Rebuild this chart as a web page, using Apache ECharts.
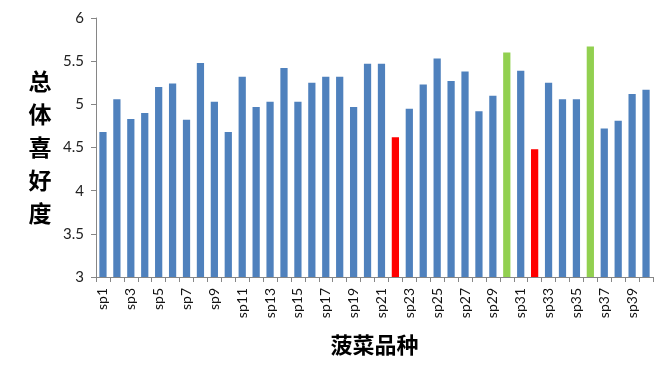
<!DOCTYPE html>
<html>
<head>
<meta charset="utf-8">
<script src="https://cdn.jsdelivr.net/npm/echarts@6/dist/echarts.min.js"></script>
<style>
html,body{margin:0;padding:0;background:#fff;}
#chart{width:672px;height:380px;}
</style>
</head>
<body>
<div id="chart"></div>
<script>
var categories = ['sp1','sp2','sp3','sp4','sp5','sp6','sp7','sp8','sp9','sp10',
  'sp11','sp12','sp13','sp14','sp15','sp16','sp17','sp18','sp19','sp20',
  'sp21','sp22','sp23','sp24','sp25','sp26','sp27','sp28','sp29','sp30',
  'sp31','sp32','sp33','sp34','sp35','sp36','sp37','sp38','sp39','sp40'];
var preference = [4.68,5.06,4.83,4.90,5.20,5.24,4.82,5.48,5.03,4.68,
  5.32,4.97,5.03,5.42,5.03,5.25,5.32,5.32,4.97,5.47,
  5.47,4.62,4.95,5.23,5.53,5.27,5.38,4.92,5.10,5.60,
  5.39,4.48,5.25,5.06,5.06,5.67,4.72,4.81,5.12,5.17];
var lowVarieties = ['sp22','sp32'];
var highVarieties = ['sp30','sp36'];
var yTicks = [3, 3.5, 4, 4.5, 5, 5.5, 6];

var chart = echarts.init(document.getElementById('chart'), null, {renderer:'canvas'});
var axisColor = '#868686';
chart.setOption({
  animation: false,
  grid: {left: 96, right: 19, top: 18, bottom: 103, containLabel: false},
  xAxis: {
    type: 'category',
    data: categories,
    name: '菠菜品种',
    nameLocation: 'middle',
    nameGap: 57,
    nameTextStyle: {fontFamily: 'Noto Sans CJK SC', fontSize: 22, color: '#000', fontWeight: 'bold'},
    axisLine: {lineStyle: {color: axisColor, width: 1}},
    axisTick: {show: true, length: 5, alignWithLabel: false, interval: 0, lineStyle: {color: axisColor}},
    axisLabel: {rotate: 90, interval: 1, margin: 11, fontSize: 14, color: '#111', fontFamily: 'Lato'}
  },
  yAxis: {
    type: 'value',
    min: yTicks[0],
    max: yTicks[yTicks.length - 1],
    interval: 0.5,
    name: '总\n体\n喜\n好\n度',
    nameLocation: 'middle',
    nameRotate: 0,
    nameGap: 56,
    nameTextStyle: {fontFamily: 'Noto Sans CJK SC', fontSize: 23, color: '#000', lineHeight: 33, align: 'center', verticalAlign: 'middle', fontWeight: 'bold'},
    axisLine: {show: true, lineStyle: {color: axisColor, width: 1}},
    axisTick: {show: true, length: 5, lineStyle: {color: axisColor}},
    splitLine: {show: false},
    axisLabel: {margin: 12, fontSize: 15, color: '#222', fontFamily: 'Lato'}
  },
  series: [{
    type: 'bar',
    data: preference,
    barCategoryGap: '48%',
    itemStyle: {
      color: function (p) {
        var name = categories[p.dataIndex];
        if (lowVarieties.indexOf(name) >= 0) return '#FF0000';
        if (highVarieties.indexOf(name) >= 0) return '#92D050';
        return '#4F81BD';
      }
    }
  }]
});
</script>
</body>
</html>
